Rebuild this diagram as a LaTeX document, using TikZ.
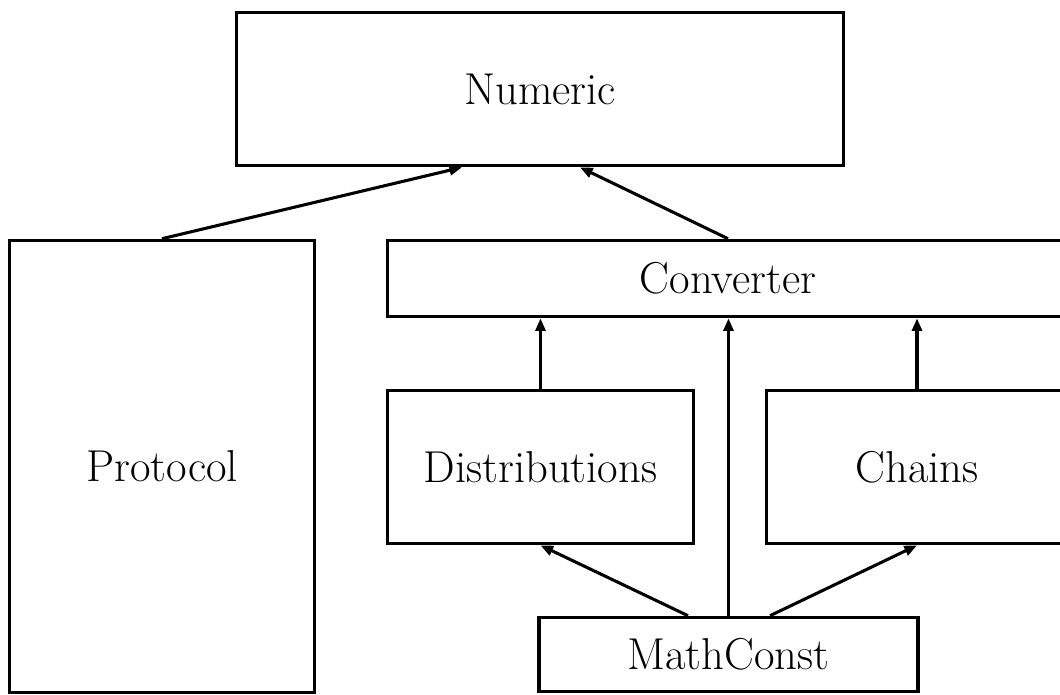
\documentclass[tikz,border=0pt]{standalone}
\usetikzlibrary{arrows.meta,calc}
\begin{document}
\begin{tikzpicture}[x=0.75pt,y=-0.75pt,
  box/.style={draw,line width=2.7pt,inner sep=0pt,font=\fontsize{33.5}{40}\selectfont},
  conn/.style={line width=2.3pt,-{Triangle[length=9.5pt,width=7.5pt]}}]
\useasboundingbox (0,0) rectangle (1060,694);
\node[box,minimum width=607*0.75pt,minimum height=153*0.75pt] (numeric) at (540,89) {Numeric};
\node[box,minimum width=305*0.75pt,minimum height=452*0.75pt] (protocol) at (162,466.5) {Protocol};
\node[box,minimum width=681*0.75pt,minimum height=76*0.75pt] (converter) at (728,278.5) {Converter};
\node[box,minimum width=306*0.75pt,minimum height=153*0.75pt] (distributions) at (540.5,467) {Distributions};
\node[box,minimum width=301*0.75pt,minimum height=153*0.75pt] (chains) at (917,467) {Chains};
\node[box,minimum width=379*0.75pt,minimum height=74*0.75pt] (mathconst) at (728.5,654.5) {MathConst};
\draw[conn] (protocol.north) -- ([xshift=-78*0.75pt]numeric.south);
\draw[conn] (converter.north) -- ([xshift=40*0.75pt]numeric.south);
\draw[conn] (distributions.north) -- (distributions.north |- converter.south);
\draw[conn] (chains.north) -- (chains.north |- converter.south);
\draw[conn] (mathconst.north) -- (mathconst.north |- converter.south);
\draw[conn] ([xshift=-40.5*0.75pt]mathconst.north) -- (distributions.south);
\draw[conn] ([xshift=41.5*0.75pt]mathconst.north) -- (chains.south);
\end{tikzpicture}
\end{document}
